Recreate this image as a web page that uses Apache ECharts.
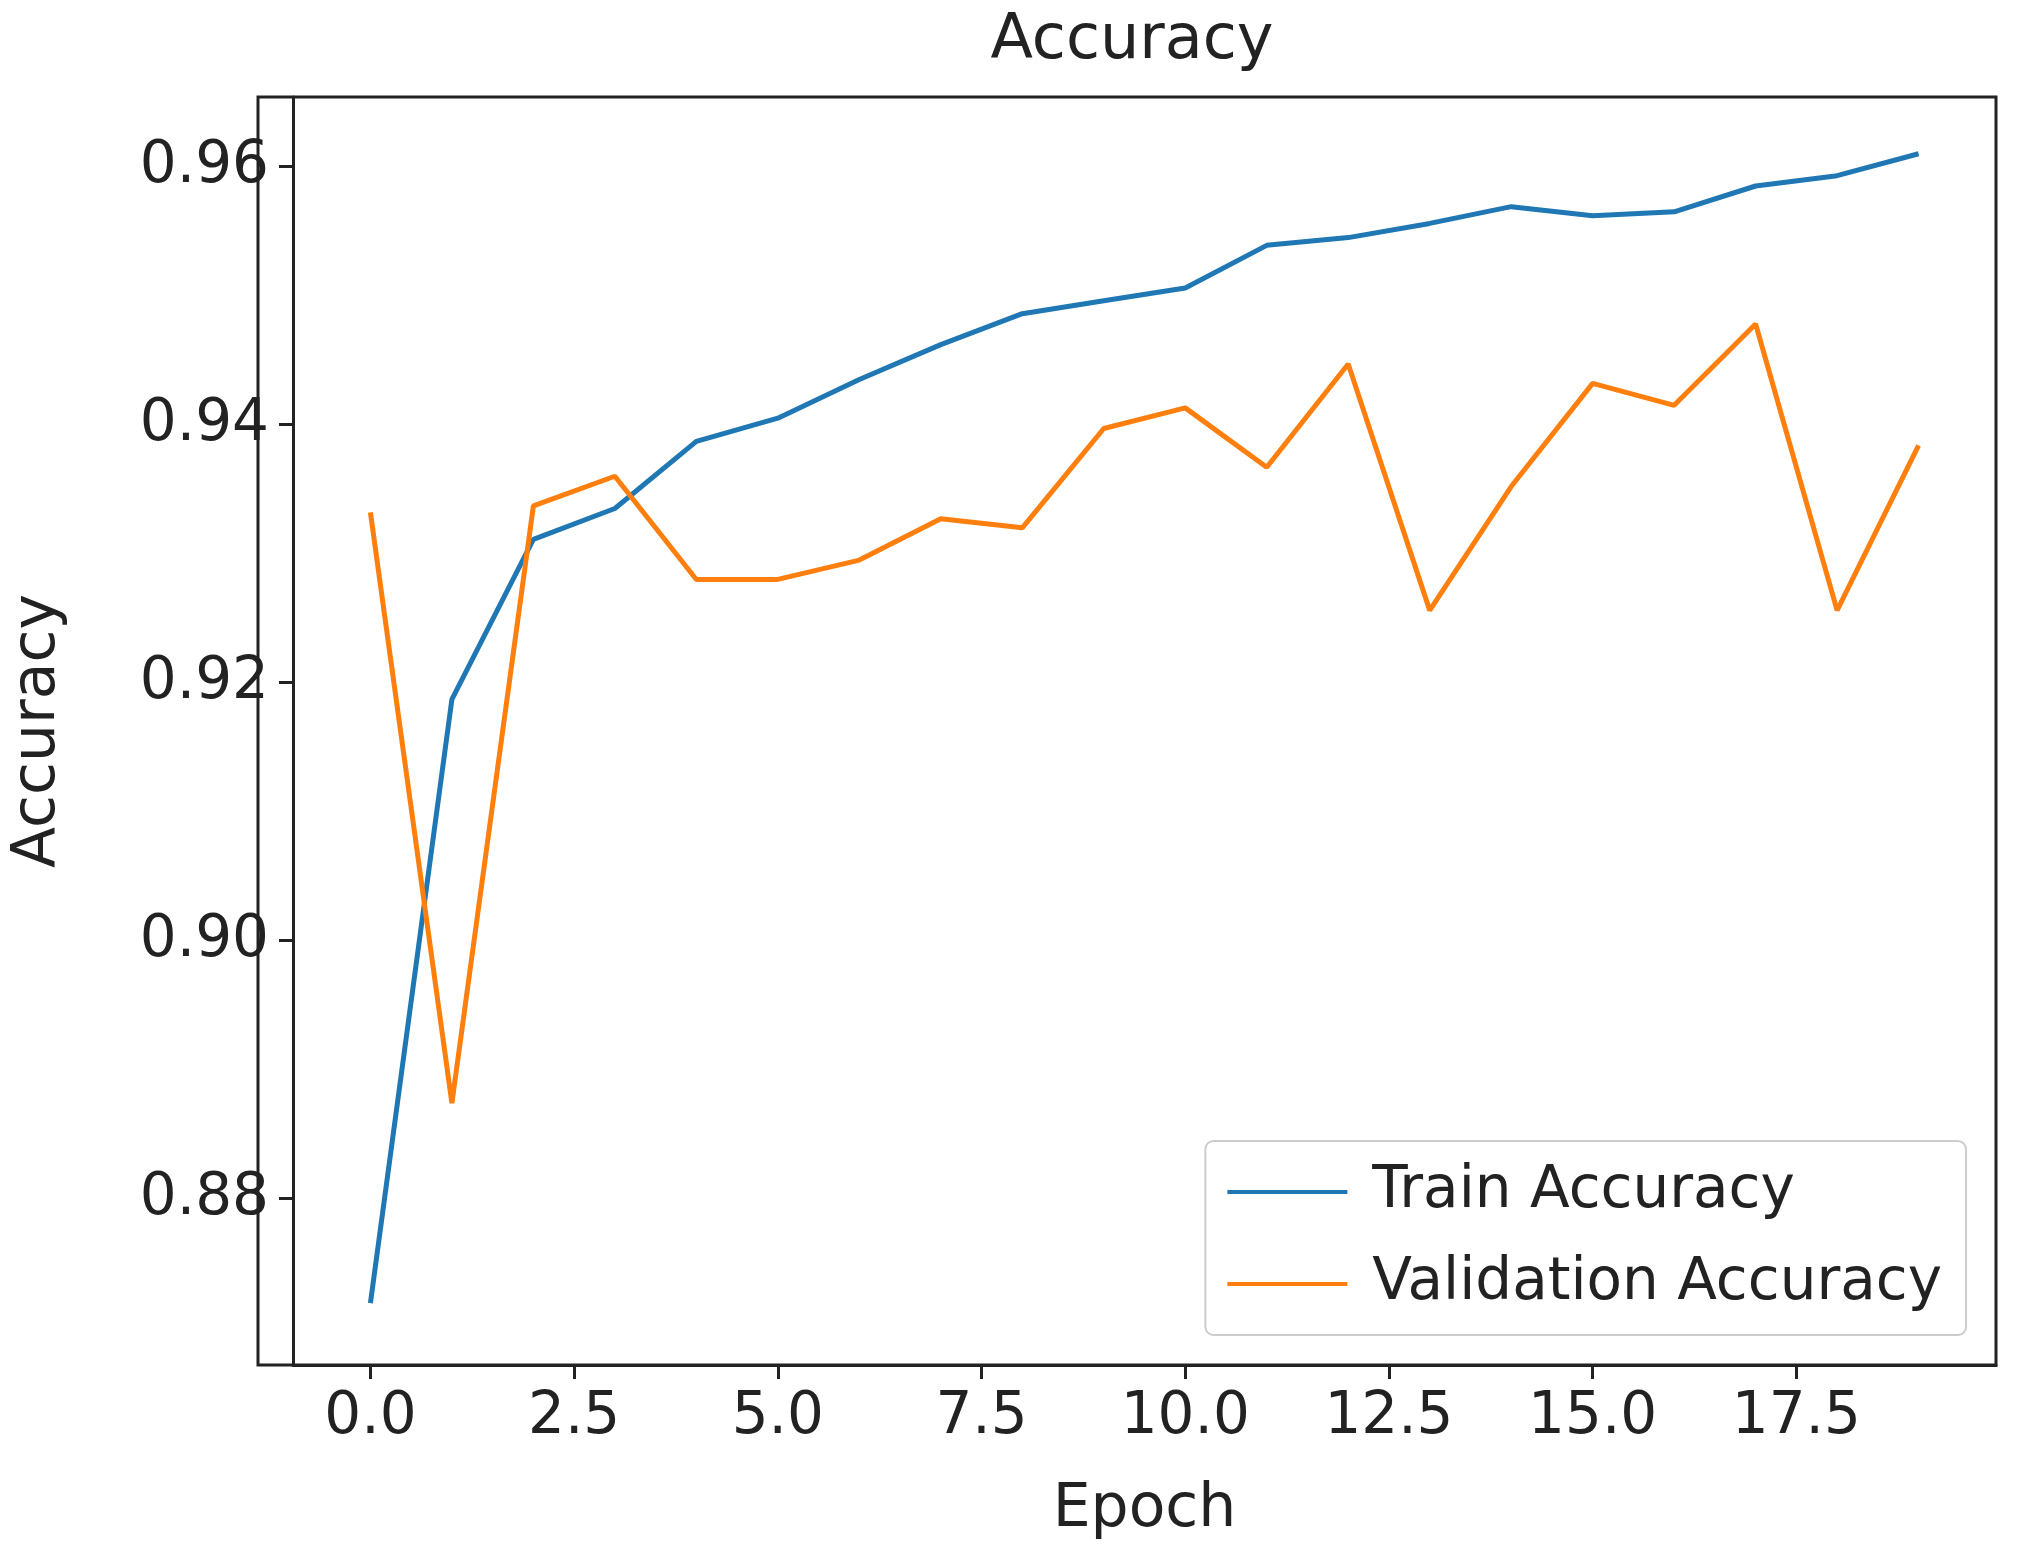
<!DOCTYPE html>
<html>
<head>
<meta charset="utf-8">
<script src="https://cdn.jsdelivr.net/npm/echarts@6/dist/echarts.min.js"></script>
<style>html,body{margin:0;background:#fff}#c{width:2039px;height:1554px}</style>
</head>
<body>
<div id="c"></div>
<script>
const epochs = [0,1,2,3,4,5,6,7,8,9,10,11,12,13,14,15,16,17,18,19];
const trainAcc = [0.8719,0.9187,0.9311,0.9335,0.9387,0.9405,0.9435,0.9462,0.9486,0.9496,0.9506,0.9539,0.9545,0.9556,0.9569,0.9562,0.9565,0.9585,0.9593,0.9610];
const valAcc = [0.9332,0.8874,0.9337,0.9360,0.9280,0.9280,0.9295,0.9327,0.9320,0.9397,0.9413,0.9367,0.9447,0.9256,0.9352,0.9432,0.9415,0.9478,0.9256,0.9384];
const xTicks = [0,2.5,5,7.5,10,12.5,15,17.5];
const yTicks = [0.88,0.90,0.92,0.94,0.96];

const font = 'DejaVu Sans';
const chart = echarts.init(document.getElementById('c'));
chart.setOption({
  animation: false,
  textStyle: { fontFamily: font },
  title: { text: 'Accuracy', left: 1127, textAlign: 'center', top: 6, textStyle: { fontFamily: font, fontSize: 62, fontWeight: 'normal', color: '#222' } },
  grid: { left: 258, right: 43, top: 97, bottom: 189 },
  legend: {
    orient: 'vertical', right: 73, bottom: 219,
    backgroundColor: '#fff', borderColor: '#ccc', borderWidth: 2, borderRadius: 8,
    padding: [22, 24, 22, 22], itemGap: 34, itemWidth: 120, itemHeight: 44,
    icon: 'path://M0,20 L120,20 L120,24 L0,24 Z',
    textStyle: { fontFamily: font, fontSize: 58, color: '#222', padding: [0, 0, 0, 20] },
    data: ['Train Accuracy', 'Validation Accuracy']
  },
  xAxis: {
    type: 'value', min: -0.95, max: 19.95,
    name: 'Epoch', nameLocation: 'middle', nameGap: 115,
    nameTextStyle: { fontFamily: font, fontSize: 60, color: '#222' },
    axisLine: { onZero: false, lineStyle: { color: '#222', width: 3 } },
    axisTick: { show: true, length: 14, lineStyle: { color: '#222', width: 3 }, customValues: xTicks },
    axisLabel: { fontFamily: font, fontSize: 58, color: '#222', margin: 24, customValues: xTicks, formatter: v => v.toFixed(1) },
    splitLine: { show: false }
  },
  yAxis: {
    type: 'value', min: 0.8671, max: 0.9654,
    name: 'Accuracy', nameLocation: 'middle', nameGap: 225,
    nameTextStyle: { fontFamily: font, fontSize: 60, color: '#222' },
    axisLine: { show: true, onZero: false, lineStyle: { color: '#222', width: 3 } },
    axisTick: { show: true, length: 14, lineStyle: { color: '#222', width: 3 }, customValues: yTicks },
    axisLabel: { fontFamily: font, fontSize: 58, color: '#222', margin: 24, customValues: yTicks, formatter: v => v.toFixed(2) },
    splitLine: { show: false }
  },
  graphic: [{ type: 'rect', shape: { x: 258, y: 97, width: 1738, height: 1268 }, style: { fill: 'none', stroke: '#222', lineWidth: 3 }, silent: true }],
  series: [
    { name: 'Train Accuracy', type: 'line', data: epochs.map((e, i) => [e, trainAcc[i]]), showSymbol: false, color: '#1f77b4', lineStyle: { width: 5 } },
    { name: 'Validation Accuracy', type: 'line', data: epochs.map((e, i) => [e, valAcc[i]]), showSymbol: false, color: '#ff7f0e', lineStyle: { width: 5 } }
  ]
});
</script>
</body>
</html>
